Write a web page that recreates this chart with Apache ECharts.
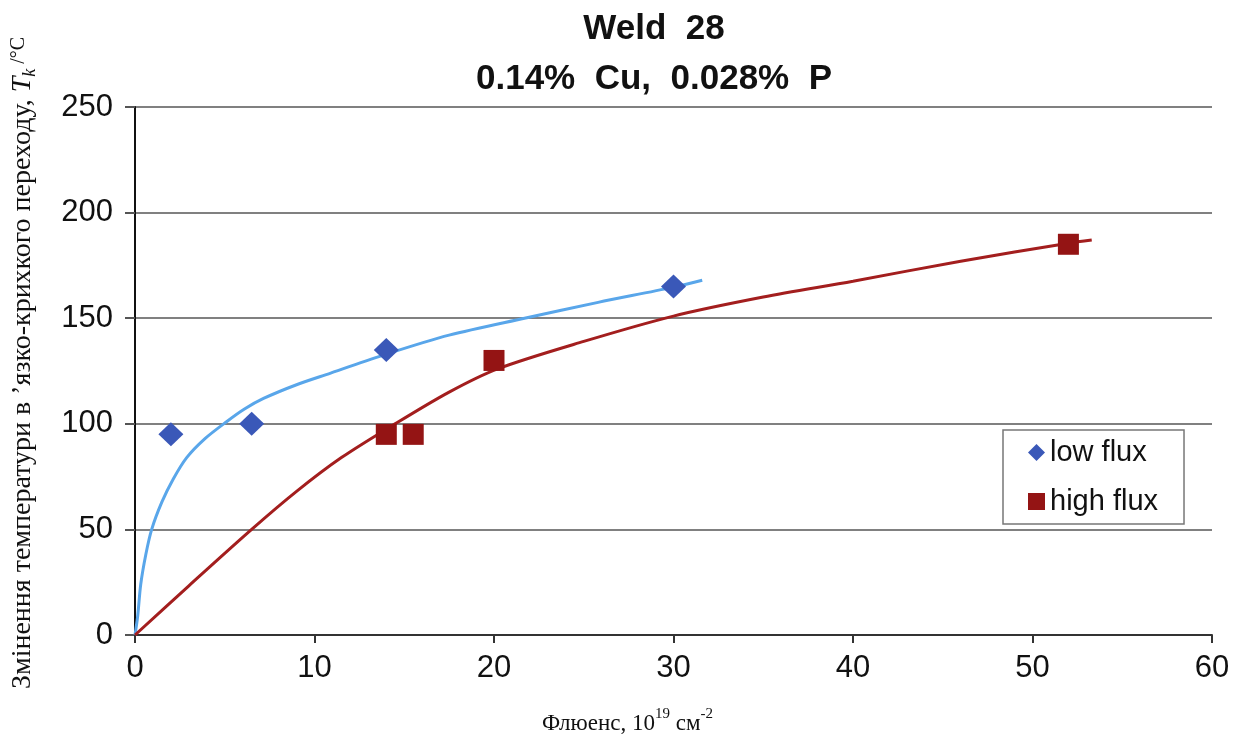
<!DOCTYPE html>
<html><head><meta charset="utf-8">
<script src="https://cdn.jsdelivr.net/npm/echarts@6/dist/echarts.min.js"></script>
<style>html,body{margin:0;padding:0;background:#fff}#c{width:1247px;height:740px}</style>
</head><body><div id="c"></div>
<script>
// Measured points
const lowFluxX = [2, 6.5, 14, 30];
const lowFluxY = [95, 100, 135, 165];
const highFluxX = [14, 15.5, 20, 52];
const highFluxY = [95, 95, 130, 185];
// Trend curves
const lowTrendX = [0, 0.15, 0.32, 0.6, 0.93, 1.5, 2.14, 2.88, 3.9, 5.1, 6.1, 7.16, 9.0, 10.9, 14, 17.5, 21.7, 25.8, 29.95, 31.6];
const lowTrendY = [0, 9, 24, 38, 50, 63, 74, 84, 93, 101, 107, 112, 118.5, 124, 133, 142, 150, 157.5, 164.6, 168];
const highTrendX = [0, 3, 6.5, 9, 11.5, 14.4, 17.5, 20.2, 25, 30, 35, 40, 46, 52, 53.3];
const highTrendY = [0, 23.3, 50, 68, 84, 99.5, 115, 126, 139, 151, 160, 167.5, 177, 185.5, 187];
const xTicks = [0, 10, 20, 30, 40, 50, 60];
const yTicks = [0, 50, 100, 150, 200, 250];

const zip = (a, b) => a.map((v, i) => [v, b[i]]);
const chart = echarts.init(document.getElementById('c'), null, {renderer: 'canvas'});
const sans = '"Liberation Sans", Arial, sans-serif';
const serif = '"Liberation Serif", "Times New Roman", serif';
chart.setOption({
  animation: false,
  backgroundColor: '#fff',
  title: {
    text: 'Weld  28\n0.14%  Cu,  0.028%  P',
    left: 649, top: -1, textAlign: 'center',
    textStyle: {fontFamily: sans, fontSize: 35, fontWeight: 'bold', color: '#111', lineHeight: 50}
  },
  legend: {
    data: [{name: 'low flux', icon: 'diamond'}, {name: 'high flux', icon: 'rect'}],
    orient: 'vertical', left: 1003, top: 430,
    padding: [8, 26, 8, 25],
    itemWidth: 17, itemHeight: 17, itemGap: 20,
    borderColor: '#777', borderWidth: 1.5,
    textStyle: {fontFamily: sans, fontSize: 29, color: '#111'}
  },
  grid: {left: 135, right: 35, top: 107, bottom: 102},
  xAxis: {
    type: 'value', min: 0, max: 60, interval: 10,
    name: '{a|Флюенс, 10}{s|19}{a| см}{s|-2}',
    nameLocation: 'middle', nameGap: 72,
    nameTextStyle: {padding: [0, 92, 0, 0], rich: {
      a: {fontFamily: serif, fontSize: 23, color: '#111', verticalAlign: 'bottom', lineHeight: 28},
      s: {fontFamily: serif, fontSize: 15, color: '#111', verticalAlign: 'top', lineHeight: 28}
    }},
    axisLine: {show: true, onZero: false, lineStyle: {color: '#333', width: 2}},
    axisTick: {show: true, length: 8, lineStyle: {color: '#333', width: 2}},
    axisLabel: {fontFamily: sans, fontSize: 31, color: '#111', margin: 18},
    splitLine: {show: false}
  },
  yAxis: {
    type: 'value', min: 0, max: 250, interval: 50,
    name: '{a|Змінення температури в ʼязко-крихкого переходу, }{i|T}{k|k}{c| /°C}',
    nameLocation: 'middle', nameGap: 96, nameRotate: 90,
    nameTextStyle: {padding: [0, 0, 0, 16], rich: {
      a: {fontFamily: serif, fontSize: 28, color: '#111', verticalAlign: 'top', lineHeight: 30},
      i: {fontFamily: serif, fontSize: 28, fontStyle: 'italic', color: '#111', verticalAlign: 'top', lineHeight: 30},
      k: {fontFamily: serif, fontSize: 18, fontStyle: 'italic', color: '#111', verticalAlign: 'bottom', lineHeight: 30},
      c: {fontFamily: serif, fontSize: 20, color: '#111', verticalAlign: 'top', lineHeight: 30}
    }},
    axisLine: {show: true, lineStyle: {color: '#111', width: 2}},
    axisTick: {show: true, length: 10, lineStyle: {color: '#555', width: 2}},
    axisLabel: {fontFamily: sans, fontSize: 31, color: '#111', margin: 22},
    splitLine: {show: true, lineStyle: {color: '#808080', width: 2}}
  },
  series: [
    {name: 'low trend', type: 'line', data: zip(lowTrendX, lowTrendY), smooth: 0.3,
     showSymbol: false, lineStyle: {color: '#59A6EA', width: 3}, silent: true, z: 2},
    {name: 'high trend', type: 'line', data: zip(highTrendX, highTrendY), smooth: 0.3,
     showSymbol: false, lineStyle: {color: '#A31E1E', width: 3}, silent: true, z: 2},
    {name: 'low flux', type: 'scatter', data: zip(lowFluxX, lowFluxY), symbol: 'diamond',
     symbolSize: [25, 24], itemStyle: {color: '#3A58B8', opacity: 1}, z: 3},
    {name: 'high flux', type: 'scatter', data: zip(highFluxX, highFluxY), symbol: 'rect',
     symbolSize: 21, itemStyle: {color: '#941414', opacity: 1}, z: 3}
  ]
});
</script></body></html>
